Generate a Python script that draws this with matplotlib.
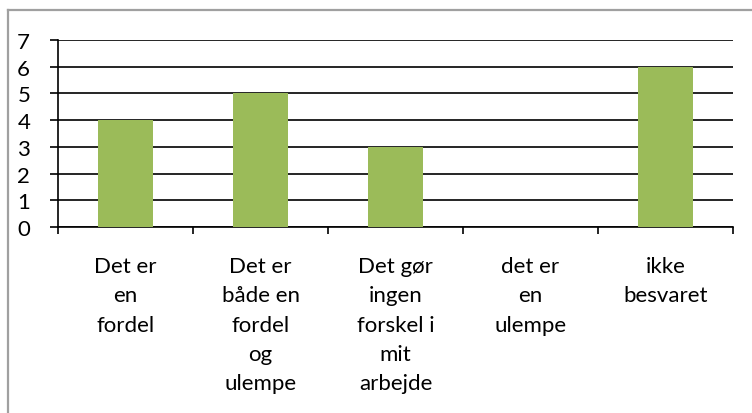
import matplotlib
matplotlib.use("Agg")
import matplotlib.pyplot as plt
from matplotlib.lines import Line2D

# ── chart data ────────────────────────────────────────────────────────────────
categories = [
    "Det er\nen\nfordel",
    "Det er\nbåde en\nfordel\nog\nulempe",
    "Det gør\ningen\nforskel i\nmit\narbejde",
    "det er\nen\nulempe",
    "ikke\nbesvaret",
]
values = [4, 5, 3, 0, 6]
y_ticks = [0, 1, 2, 3, 4, 5, 6, 7]

plt.rcParams["font.family"] = ["Lato", "DejaVu Sans"]

W, H = 752, 414
fig = plt.figure(figsize=(W / 100, H / 100), dpi=100)
ax = fig.add_axes([58 / W, (H - 228) / H, (733 - 58) / W, 187 / H])

x = list(range(len(categories)))
ax.bar(x, values, width=0.41, color="#9BBB59", zorder=3)

ax.set_xlim(-0.5, len(categories) - 0.5)
ax.set_ylim(0, 7)
ax.set_yticks(y_ticks)
ax.set_yticklabels([str(v) for v in y_ticks], fontsize=16)
ax.yaxis.grid(True, color="black", linewidth=1.2, zorder=1)
ax.set_axisbelow(True)

# category boundaries get tick marks, centres get the labels
ax.set_xticks([i - 0.5 for i in range(len(categories) + 1)])
ax.set_xticklabels([])
ax.set_xticks(x, minor=True)
ax.set_xticklabels(categories, minor=True, fontsize=16, linespacing=1.58, va="top")
ax.tick_params(axis="x", which="minor", length=0, pad=21)
ax.tick_params(axis="x", which="major", direction="out", length=5, width=1.2)
ax.tick_params(axis="y", direction="out", length=6, width=1.2, pad=14)

for side in ("top", "right"):
    ax.spines[side].set_visible(False)
ax.spines["left"].set_linewidth(1.2)
ax.spines["bottom"].set_linewidth(1.2)

# chart frame (only left and top edges are inside the picture)
fx, fy = 7.5 / W, (H - 11) / H
fig.add_artist(Line2D([fx, fx], [0, fy], transform=fig.transFigure, color="#A0A0A0", linewidth=1.6))
fig.add_artist(Line2D([fx, 1], [fy, fy], transform=fig.transFigure, color="#A0A0A0", linewidth=1.6))

fig.savefig("out.png", dpi=100)
